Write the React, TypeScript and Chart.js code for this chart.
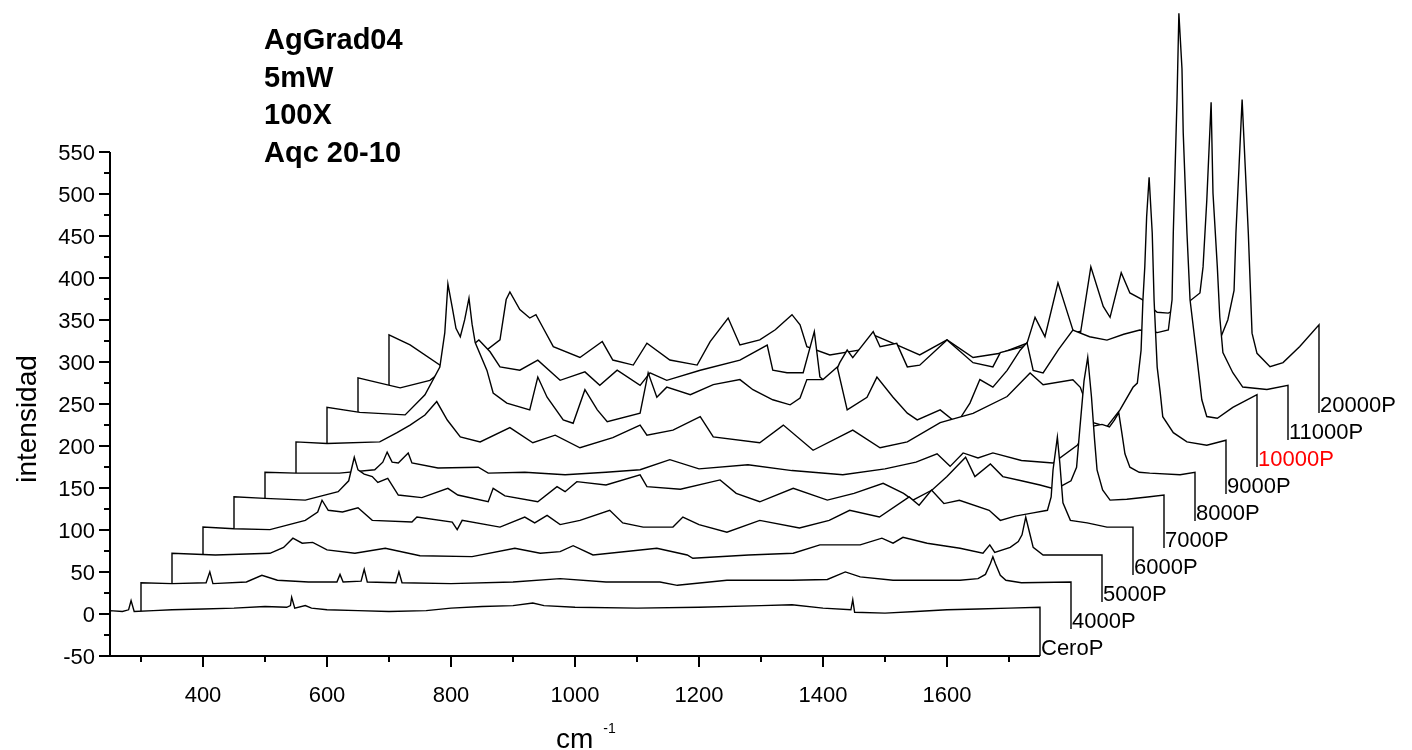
import React, { useEffect, useRef } from "react";
import { Chart, registerables } from "chart.js";

Chart.register(...registerables);

// ---- waterfall geometry (data units) ----
const X_SHIFT = 50; // wavenumber shift between successive spectra
const Y_SHIFT = 32.15; // intensity shift between successive spectra
const FLOOR = -50;
const X_START = 250;
const X_END = 1750;
const Y_TOP = 550;

// ---- series names ----
const seriesNames = ["CeroP", "4000P", "5000P", "6000P", "7000P", "8000P", "9000P", "10000P", "11000P", "20000P"];
const labelColors = ["#000", "#000", "#000", "#000", "#000", "#000", "#000", "#ff0000", "#000", "#000"];

// ---- spectra: [wavenumber, intensity] ----
const ceroP: [number, number][] = [[250,4],[270,3],[280,5],[284,16],[289,3],[320,4],[350,5],[400,6],[450,7],[500,9],[535,8],[541,10],[543,20],[548,7],[565,10],[575,7],[600,5],[650,4],[700,3],[760,4],[800,7],[850,9],[900,10],[932,13],[950,10],[1000,8],[1100,7],[1200,8],[1300,10],[1350,11],[1400,7],[1445,5],[1448,17],[1451,2],[1500,1],[1550,3],[1600,5],[1650,6],[1700,7],[1750,8]];
const p4000: [number, number][] = [[250,5],[300,4],[355,5],[361,18],[366,4],[420,6],[445,14],[470,8],[520,6],[566,6],[571,15],[576,6],[605,7],[610,21],[615,6],[661,5],[666,18],[671,5],[750,4],[850,6],[926,10],[1000,6],[1087,6],[1115,2],[1195,8],[1300,8],[1357,9],[1386,18],[1410,12],[1463,8],[1520,8],[1571,8],[1600,10],[1612,15],[1620,28],[1624,36],[1628,28],[1636,14],[1645,8],[1670,5],[1750,6]];
const p5000: [number, number][] = [[250,8],[320,6],[408,8],[430,15],[445,26],[460,20],[477,21],[500,12],[545,8],[594,14],[650,5],[734,4],[803,14],[844,8],[876,10],[897,17],[929,6],[1032,14],[1081,6],[1090,2],[1180,6],[1252,8],[1295,18],[1360,18],[1395,26],[1413,20],[1429,27],[1468,20],[1521,14],[1558,8],[1569,18],[1577,9],[1602,15],[1615,22],[1621,30],[1627,51],[1634,30],[1639,15],[1655,6],[1700,6],[1750,6]];
const p6000: [number, number][] = [[250,7],[300,5],[358,4],[415,15],[435,25],[442,39],[452,27],[475,25],[500,30],[523,15],[587,13],[595,19],[652,13],[660,4],[668,15],[729,7],[769,19],[785,12],[805,21],[826,10],[858,15],[906,27],[927,12],[960,7],[1008,7],[1024,19],[1050,10],[1095,1],[1148,15],[1212,6],[1260,15],[1293,27],[1341,19],[1389,43],[1405,33],[1425,51],[1445,35],[1470,39],[1518,27],[1536,15],[1560,20],[1589,24],[1612,27],[1618,43],[1621,75],[1628,114],[1632,83],[1637,36],[1649,15],[1676,12],[1708,7],[1750,7]];
const p7000: [number, number][] = [[250,11],[300,9],[365,7],[418,17],[435,30],[444,58],[450,43],[460,38],[473,35],[482,28],[498,33],[515,13],[553,10],[595,21],[611,13],[660,5],[668,21],[687,12],[740,5],[771,23],[784,17],[803,29],[850,25],[905,37],[916,23],[970,20],[1034,31],[1060,15],[1098,5],[1152,21],[1207,7],[1250,15],[1297,27],[1330,15],[1345,7],[1376,19],[1400,35],[1430,58],[1445,35],[1470,50],[1490,35],[1520,30],[1550,25],[1575,20],[1600,30],[1609,46],[1614,90],[1621,149],[1627,177],[1633,130],[1638,79],[1642,43],[1651,19],[1663,7],[1690,8],[1727,11],[1750,13]];
const p8000: [number, number][] = [[250,8],[300,7],[370,7],[427,11],[440,20],[447,32],[455,20],[465,19],[481,31],[487,19],[529,13],[594,14],[610,7],[669,8],[734,5],[800,8],[855,11],[903,23],[950,12],[1029,17],[1100,10],[1182,5],[1250,12],[1300,20],[1334,30],[1355,15],[1376,31],[1400,25],[1424,31],[1470,22],[1521,19],[1560,40],[1580,62],[1600,65],[1612,62],[1620,70],[1627,79],[1632,55],[1637,30],[1645,14],[1660,8],[1677,7],[1726,5],[1750,8]];
const p9000: [number, number][] = [[250,12],[300,10],[385,12],[413,23],[434,32],[458,44],[477,60],[494,38],[515,18],[547,12],[595,29],[632,11],[668,20],[708,5],[761,17],[805,32],[816,20],[858,26],[902,42],[923,18],[998,11],[1036,32],[1084,2],[1148,26],[1192,5],[1236,12],[1289,35],[1342,46],[1397,66],[1434,94],[1455,80],[1503,86],[1515,77],[1536,35],[1558,30],[1579,50],[1600,77],[1607,82],[1613,121],[1616,181],[1619,220],[1622,280],[1626,327],[1631,261],[1634,181],[1639,101],[1644,70],[1648,42],[1665,23],[1687,12],[1719,8],[1750,14]];
const p10000: [number, number][] = [[250,21],[303,15],[376,12],[408,36],[432,69],[440,110],[445,168],[452,140],[458,115],[465,105],[472,125],[479,151],[484,120],[489,98],[508,65],[518,38],[540,26],[577,18],[590,57],[605,33],[631,6],[647,2],[666,42],[686,18],[702,4],[755,14],[768,62],[782,33],[798,45],[836,36],[873,48],[916,54],[937,42],[969,30],[997,24],[1013,32],[1024,54],[1050,54],[1073,69],[1089,18],[1121,33],[1137,57],[1163,33],[1186,14],[1202,6],[1239,18],[1266,2],[1287,26],[1303,54],[1324,45],[1347,65],[1368,89],[1379,98],[1389,65],[1405,62],[1430,90],[1453,113],[1480,105],[1508,101],[1535,108],[1561,113],[1589,110],[1607,113],[1613,149],[1615,229],[1618,308],[1621,388],[1624,490],[1629,424],[1631,348],[1637,229],[1642,149],[1653,81],[1661,30],[1669,10],[1686,8],[1711,21],[1750,36]];
const p11000: [number, number][] = [[250,24],[318,12],[366,21],[394,37],[415,51],[445,69],[463,55],[479,37],[511,33],[540,45],[576,21],[616,31],[640,15],[668,33],[705,15],[721,30],[748,21],[802,33],[866,45],[910,63],[919,33],[942,30],[968,30],[986,79],[995,25],[1011,15],[1027,42],[1039,57],[1048,48],[1081,79],[1092,61],[1119,65],[1136,37],[1156,39],[1200,69],[1242,42],[1274,37],[1286,54],[1323,61],[1329,65],[1342,96],[1358,73],[1379,137],[1403,81],[1411,57],[1432,156],[1452,109],[1463,96],[1481,149],[1495,125],[1515,117],[1539,102],[1557,101],[1584,111],[1608,125],[1613,156],[1619,235],[1626,352],[1629,244],[1636,156],[1640,96],[1645,54],[1661,30],[1677,13],[1716,10],[1750,15]];
const p20000: [number, number][] = [[250,43],[284,31],[332,7],[365,13],[397,19],[429,37],[439,85],[445,94],[461,73],[477,63],[487,67],[498,52],[515,29],[558,16],[594,35],[611,13],[644,7],[666,33],[703,13],[747,7],[768,35],[797,63],[816,31],[848,37],[873,49],[900,67],[913,55],[924,29],[961,19],[1010,25],[1031,43],[1069,31],[1106,19],[1150,37],[1192,16],[1236,21],[1279,33],[1316,43],[1353,45],[1376,49],[1397,40],[1429,49],[1461,45],[1489,49],[1542,45],[1582,43],[1590,37],[1603,61],[1613,96],[1616,164],[1621,243],[1626,323],[1631,243],[1636,164],[1642,45],[1650,21],[1671,5],[1692,10],[1719,29],[1750,55]];

const spectra = [ceroP, p4000, p5000, p6000, p7000, p8000, p9000, p10000, p11000, p20000];

// ---- ticks ----
const xTickLabels = [400, 600, 800, 1000, 1200, 1400, 1600];
const xMinorTicks = [300, 500, 700, 900, 1100, 1300, 1500, 1700];
const yTickLabels = [-50, 0, 50, 100, 150, 200, 250, 300, 350, 400, 450, 500, 550];
const yMinorTicks = [-25, 25, 75, 125, 175, 225, 275, 325, 375, 425, 475, 525];

const annotation = ["AgGrad04", "5mW", "100X", "Aqc 20-10"];
const xTitle = "cm";
const xTitleSup = "-1";
const yTitle = "intensidad";

// ---- view window of the canvas (data units) ----
const X_VIEW_MIN = 72.58;
const X_VIEW_MAX = 2350;
const Y_VIEW_MIN = -161.9;
const Y_VIEW_MAX = 730.95;

const FONT = "'Liberation Sans', Arial, Helvetica, sans-serif";

const axesPlugin = {
  id: "waterfallAxes",
  afterDraw(chart: any) {
    const ctx = chart.ctx as CanvasRenderingContext2D;
    const xs = chart.scales.x;
    const ys = chart.scales.y;
    const X = (v: number) => xs.getPixelForValue(v);
    const Y = (v: number) => ys.getPixelForValue(v);
    const x0 = Math.round(X(X_START));
    const x1 = Math.round(X(X_END));
    const yb = Math.round(Y(FLOOR));
    const yt = Math.round(Y(Y_TOP));
    ctx.save();
    ctx.strokeStyle = "#000";
    ctx.lineWidth = 2;
    ctx.beginPath();
    ctx.moveTo(x0 - 1, yb);
    ctx.lineTo(x1, yb);
    ctx.moveTo(x0, yb + 1);
    ctx.lineTo(x0, yt);
    ctx.stroke();
    ctx.beginPath();
    xTickLabels.forEach((v) => {
      const px = Math.round(X(v));
      ctx.moveTo(px, yb);
      ctx.lineTo(px, yb + 11);
    });
    xMinorTicks.forEach((v) => {
      const px = Math.round(X(v));
      ctx.moveTo(px, yb);
      ctx.lineTo(px, yb + 6);
    });
    yTickLabels.forEach((v) => {
      const py = Math.round(Y(v));
      ctx.moveTo(x0, py);
      ctx.lineTo(x0 - 11, py);
    });
    yMinorTicks.forEach((v) => {
      const py = Math.round(Y(v));
      ctx.moveTo(x0, py);
      ctx.lineTo(x0 - 6, py);
    });
    ctx.stroke();

    ctx.fillStyle = "#000";
    ctx.font = `22px ${FONT}`;
    ctx.textAlign = "center";
    ctx.textBaseline = "alphabetic";
    xTickLabels.forEach((v) => {
      ctx.fillText(String(v), X(v), yb + 46);
    });
    ctx.textAlign = "right";
    yTickLabels.forEach((v) => {
      ctx.fillText(String(v), x0 - 15, Y(v) + 8);
    });

    ctx.font = `28px ${FONT}`;
    ctx.textAlign = "left";
    const cmX = (X(X_START) + X(X_END)) / 2 - 19;
    ctx.fillText(xTitle, cmX, 748);
    const cmW = ctx.measureText(xTitle).width;
    ctx.font = `14px ${FONT}`;
    ctx.fillText(xTitleSup, cmX + cmW + 10, 733);

    ctx.save();
    ctx.font = `28px ${FONT}`;
    ctx.translate(36, (yb + yt) / 2 + 15);
    ctx.rotate(-Math.PI / 2);
    ctx.textAlign = "center";
    ctx.fillText(yTitle, 0, 0);
    ctx.restore();

    ctx.font = `bold 29px ${FONT}`;
    ctx.textAlign = "left";
    annotation.forEach((t, i) => {
      ctx.fillText(t, 264, 49 + i * 37.7);
    });

    ctx.font = `22px ${FONT}`;
    spectra.forEach((s, k) => {
      const lx = X(s[s.length - 1][0] + k * X_SHIFT);
      const ly = Y(FLOOR + k * Y_SHIFT);
      ctx.fillStyle = labelColors[k];
      ctx.fillText(seriesNames[k], lx + 1, ly - 1);
    });
    ctx.restore();
  },
};

export default function App() {
  const canvasRef = useRef<HTMLCanvasElement | null>(null);

  useEffect(() => {
    if (!canvasRef.current) return;
    const datasets = spectra.map((s, k) => {
      const floorY = FLOOR + k * Y_SHIFT;
      const pts = s.map(([x, y]) => ({ x: x + k * X_SHIFT, y: y + k * Y_SHIFT }));
      return {
        label: seriesNames[k],
        data: [
          { x: s[0][0] + k * X_SHIFT, y: floorY },
          ...pts,
          { x: s[s.length - 1][0] + k * X_SHIFT, y: floorY },
        ],
        borderColor: "#000",
        borderWidth: 1.4,
        backgroundColor: "#ffffff",
        fill: { value: floorY },
        pointRadius: 0,
        pointHoverRadius: 0,
        tension: 0,
        clip: false as any,
      };
    });

    const chart = new Chart(canvasRef.current, {
      type: "line",
      data: { datasets: datasets as any },
      options: {
        animation: false,
        responsive: false,
        maintainAspectRatio: false,
        layout: { padding: 0 },
        events: [],
        plugins: {
          legend: { display: false },
          tooltip: { enabled: false },
          title: { display: false },
        },
        scales: {
          x: { type: "linear", min: X_VIEW_MIN, max: X_VIEW_MAX, display: false },
          y: { type: "linear", min: Y_VIEW_MIN, max: Y_VIEW_MAX, display: false },
        },
      },
      plugins: [axesPlugin],
    });
    return () => chart.destroy();
  }, []);

  return (
    <div style={{ position: "absolute", left: 0, top: 0, width: 1412, height: 750, background: "#fff" }}>
      <canvas ref={canvasRef} width={1412} height={750} style={{ display: "block" }} />
    </div>
  );
}
